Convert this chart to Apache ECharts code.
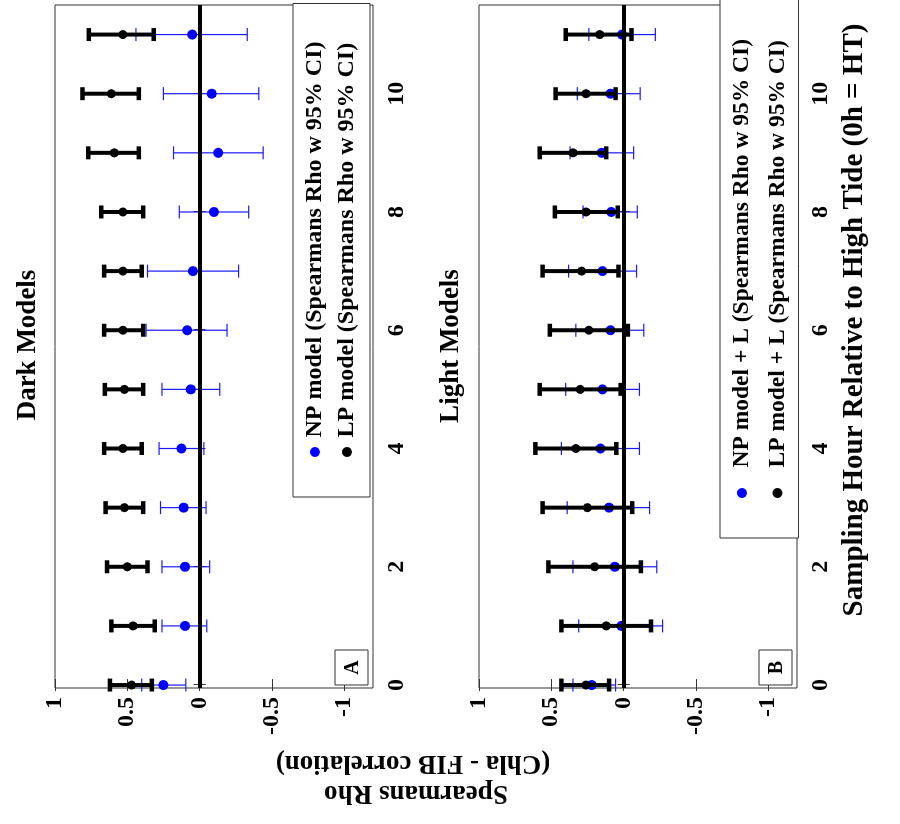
<!DOCTYPE html>
<html>
<head>
<meta charset="utf-8">
<script src="https://cdn.jsdelivr.net/npm/echarts@6/dist/echarts.min.js"></script>
<style>
html, body { margin:0; padding:0; overflow:hidden; background:#fff; width:900px; height:824px; }
#chart { position:absolute; left:0; top:0; width:824px; height:900px;
  transform-origin: 0 0; transform: translate(0px, 824px) rotate(-90deg); }
</style>
</head>
<body>
<div id="chart"></div>
<script>
// ---------------- data ----------------
const hours = [0, 1, 2, 3, 4, 5, 6, 7, 8, 9, 10, 11];
const hourTicks = [0, 2, 4, 6, 8, 10];
const rhoTicks = [1, 0.5, 0, -0.5, -1];

// Dark models
const darkNP   = [0.25, 0.10, 0.10, 0.11, 0.125, 0.06, 0.085, 0.045, -0.10, -0.13, -0.085, 0.05];
const darkNPLo = [0.095, -0.05, -0.07, -0.045, -0.03, -0.14, -0.19, -0.27, -0.34, -0.44, -0.41, -0.33];
const darkNPHi = [0.40, 0.26, 0.26, 0.27, 0.28, 0.26, 0.37, 0.36, 0.14, 0.18, 0.25, 0.44];
const darkLP   = [0.47, 0.46, 0.50, 0.52, 0.53, 0.52, 0.53, 0.53, 0.53, 0.59, 0.61, 0.53];
const darkLPLo = [0.33, 0.31, 0.36, 0.39, 0.40, 0.39, 0.39, 0.40, 0.39, 0.42, 0.42, 0.317];
const darkLPHi = [0.62, 0.61, 0.64, 0.65, 0.66, 0.655, 0.66, 0.66, 0.68, 0.77, 0.81, 0.766];

// Light models
const lightNP   = [0.22, 0.015, 0.06, 0.10, 0.16, 0.145, 0.09, 0.145, 0.085, 0.15, 0.09, 0.01];
const lightNPLo = [0.055, -0.27, -0.23, -0.18, -0.11, -0.11, -0.14, -0.09, -0.095, -0.07, -0.115, -0.22];
const lightNPHi = [0.35, 0.31, 0.35, 0.39, 0.43, 0.40, 0.33, 0.38, 0.28, 0.37, 0.32, 0.24];
const lightLP   = [0.26, 0.12, 0.20, 0.25, 0.33, 0.30, 0.24, 0.29, 0.26, 0.35, 0.26, 0.165];
const lightLPLo = [0.10, -0.19, -0.12, -0.06, 0.05, 0.02, -0.03, 0.035, 0.04, 0.12, 0.055, -0.055];
const lightLPHi = [0.43, 0.43, 0.52, 0.56, 0.61, 0.58, 0.51, 0.56, 0.475, 0.58, 0.47, 0.40];

const names = {
  aNP: 'NP model (Spearmans Rho w 95% CI)',
  aLP: 'LP model (Spearmans Rho w 95% CI)',
  bNP: 'NP model + L (Spearmans Rho w 95% CI)',
  bLP: 'LP model + L (Spearmans Rho w 95% CI)'
};
const titles = ['Dark Models', 'Light Models'];
const panelLabels = ['A', 'B'];
const xName = 'Sampling Hour Relative to High Tide (0h = HT)';
const yName = ['Spearmans Rho', '(Chla - FIB correlation)'];

// ---------------- chart ----------------
const FF = '"Liberation Serif", "Times New Roman", serif';
const BLUE = '#0000ff';
const FRAME = '#333';
const chart = echarts.init(document.getElementById('chart'), null, { renderer: 'canvas' });

const grids = [
  { left: 136, width: 683, top: 55, height: 318 },
  { left: 136, width: 683, top: 479, height: 318 }
];

function xAxisFor(gi, main) {
  return {
    type: 'value', gridIndex: gi, min: -0.05, max: 11.5,
    position: main ? 'bottom' : 'top',
    axisLine: { show: false },
    splitLine: { show: false },
    axisTick: { show: true, inside: true, length: 6, customValues: hourTicks,
      lineStyle: { color: FRAME, width: 1 } },
    axisLabel: { show: main, customValues: hourTicks, margin: 12,
      fontFamily: FF, fontWeight: 'bold', fontSize: 24, color: '#000' }
  };
}
function yAxisFor(gi, main) {
  return {
    type: 'value', gridIndex: gi, min: -1.2, max: 1,
    position: main ? 'left' : 'right',
    axisLine: { show: false },
    splitLine: { show: false },
    axisTick: { show: true, inside: true, length: 6, customValues: rhoTicks,
      lineStyle: { color: FRAME, width: 1 } },
    axisLabel: { show: main, customValues: rhoTicks, margin: 9,
      fontFamily: FF, fontWeight: 'bold', fontSize: 24, color: '#000' }
  };
}

function errSeries(xi, lo, hi, color, lw, capLw, cap, z, zero) {
  const s = {
    type: 'custom', xAxisIndex: xi, yAxisIndex: xi, z: z, silent: true,
    data: hours.map((h, i) => [h, lo[i], hi[i]]),
    renderItem: function (params, api) {
      const x = api.value(0);
      const p1 = api.coord([x, api.value(1)]);
      const p2 = api.coord([x, api.value(2)]);
      const st = { stroke: color, lineWidth: lw };
      const sc = { stroke: color, lineWidth: capLw };
      return { type: 'group', children: [
        { type: 'line', shape: { x1: p1[0], y1: p1[1], x2: p2[0], y2: p2[1] }, style: st },
        { type: 'line', shape: { x1: p1[0] - cap / 2, y1: p1[1], x2: p1[0] + cap / 2, y2: p1[1] }, style: sc },
        { type: 'line', shape: { x1: p2[0] - cap / 2, y1: p2[1], x2: p2[0] + cap / 2, y2: p2[1] }, style: sc }
      ]};
    }
  };
  if (zero) {
    s.markLine = { silent: true, symbol: 'none', label: { show: false },
      lineStyle: { color: '#000', width: 4, type: 'solid' },
      data: [{ yAxis: 0 }] };
  }
  return s;
}
function ptSeries(name, xi, vals, color, size, z) {
  return {
    name: name, type: 'scatter', xAxisIndex: xi, yAxisIndex: xi, z: z, silent: true,
    symbol: 'circle', symbolSize: size,
    itemStyle: { color: color, opacity: 1 },
    data: hours.map((h, i) => [h, vals[i]])
  };
}

function legendFor(left, top, pad, iw, gap, fs, data) {
  return {
    orient: 'vertical', left: left, top: top, padding: pad,
    itemWidth: iw, itemHeight: 10, itemGap: gap, icon: 'circle',
    borderColor: FRAME, borderWidth: 1, backgroundColor: '#fff',
    selectedMode: false, z: 20,
    textStyle: { fontFamily: FF, fontWeight: 'bold', fontSize: fs, color: '#000', lineHeight: fs },
    data: data
  };
}

function txt(x, y, text, size, rot) {
  return { type: 'text', x: x, y: y, rotation: rot || 0, z: 100,
    style: { text: text, fontFamily: FF, fontWeight: 'bold', fontSize: size, fill: '#000',
      align: 'center', verticalAlign: 'middle', textAlign: 'center', textVerticalAlign: 'middle' } };
}
function labelBox(x, y, w, h, text) {
  return { type: 'group', x: x, y: y, z: 100, children: [
    { type: 'rect', shape: { x: 0, y: 0, width: w, height: h }, style: { fill: '#fff', stroke: FRAME, lineWidth: 1 }, z: 100 },
    { type: 'text', x: w / 2, y: h / 2 + 1, z: 101, style: { text: text, fontFamily: FF, fontWeight: 'bold', fontSize: 20, fill: '#000',
      align: 'center', verticalAlign: 'middle', textAlign: 'center', textVerticalAlign: 'middle' } }
  ]};
}

const option = {
  animation: false,
  backgroundColor: '#fff',
  grid: grids.map(g => Object.assign({ show: true, borderColor: FRAME, borderWidth: 1, backgroundColor: 'transparent' }, g)),
  xAxis: [xAxisFor(0, true), xAxisFor(0, false), xAxisFor(1, true), xAxisFor(1, false)],
  yAxis: [yAxisFor(0, true), yAxisFor(0, false), yAxisFor(1, true), yAxisFor(1, false)],
  legend: [
    legendFor(327, 293, [10, 38, 11, 40], 19, 8, 24, [names.aNP, names.aLP]),
    legendFor(286, 720, [10, 47, 9, 40], 41, 11.5, 23.5, [names.bNP, names.bLP])
  ],
  series: [
    errSeries(0, darkNPLo, darkNPHi, '#1a1aff', 1.2, 1.2, 13, 2, true),
    ptSeries(names.aNP, 0, darkNP, BLUE, 10, 3),
    errSeries(0, darkLPLo, darkLPHi, '#000', 4, 4.5, 13, 4, false),
    ptSeries(names.aLP, 0, darkLP, '#000', 9, 5),

    errSeries(2, lightNPLo, lightNPHi, '#1a1aff', 1.2, 1.2, 13, 2, true),
    ptSeries(names.bNP, 2, lightNP, BLUE, 10, 3),
    errSeries(2, lightLPLo, lightLPHi, '#000', 4, 4.5, 13, 4, false),
    ptSeries(names.bLP, 2, lightLP, '#000', 9, 5)
  ],
  graphic: [
    txt(479, 28, titles[0], 27),
    txt(478, 451, titles[1], 27),
    txt(504, 855, xName, 29),
    txt(31, 416, yName[0], 27, Math.PI / 2),
    txt(61, 413, yName[1], 27, Math.PI / 2),
    labelBox(139, 335, 35, 33, panelLabels[0]),
    labelBox(139, 759, 35, 33, panelLabels[1])
  ]
};
chart.setOption(option);
</script>
</body>
</html>
